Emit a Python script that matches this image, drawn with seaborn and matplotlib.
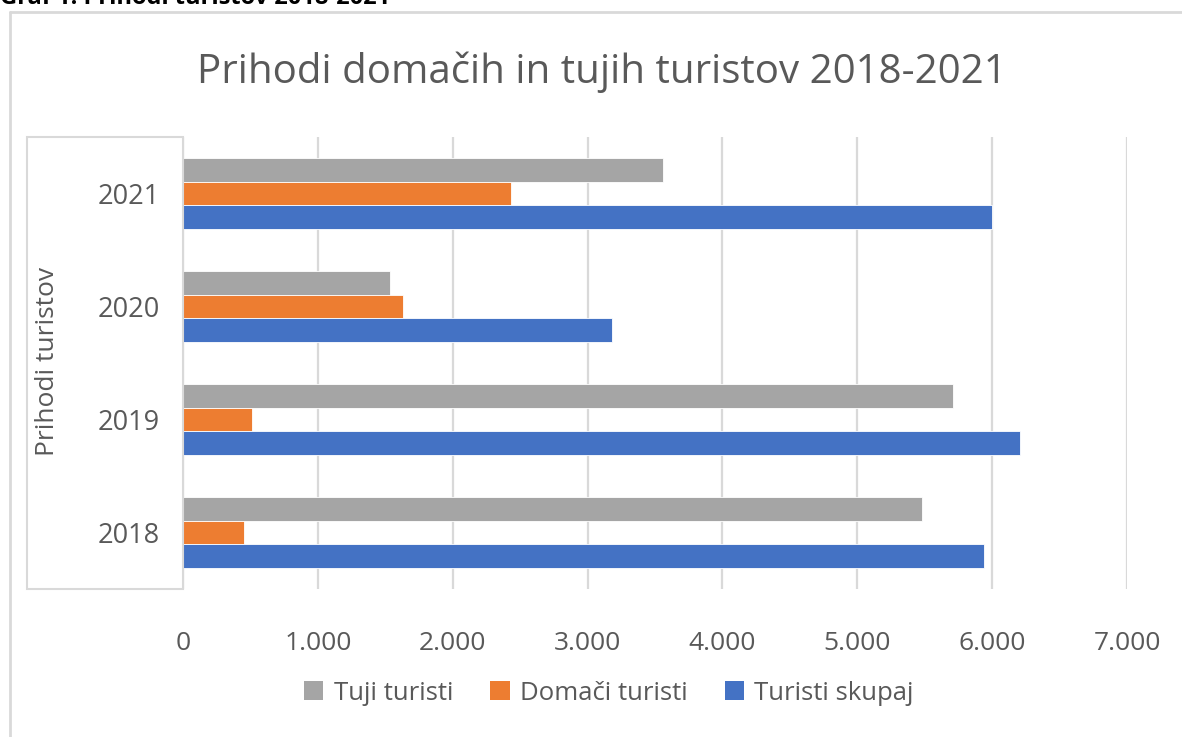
import pandas as pd
import seaborn as sns
import matplotlib.pyplot as plt
from matplotlib.lines import Line2D
from matplotlib.patches import Rectangle, Patch
from matplotlib.ticker import FuncFormatter

years = ["2021", "2020", "2019", "2018"]
series = ["Tuji turisti", "Domači turisti", "Turisti skupaj"]
tuji = [3556, 1537, 5707, 5482]
domaci = [2435, 1634, 510, 452]
skupaj = [6000, 3183, 6210, 5939]
colors = ["#A5A5A5", "#ED7D31", "#4472C4"]

rows = []
for name, vals in zip(series, [tuji, domaci, skupaj]):
    for y, v in zip(years, vals):
        rows.append({"leto": y, "serija": name, "prihodi": v})
df = pd.DataFrame(rows)

sns.set_theme(style="white")
plt.rcParams['font.family'] = ['Open Sans', 'DejaVu Sans']
text_col = "#595959"
grid_col = "#D9D9D9"

fig = plt.figure(figsize=(11.82, 7.37), dpi=100)
ax = fig.add_axes([183 / 1182, 1 - 589 / 737, (1127 - 183) / 1182, (589 - 137) / 737])

sns.barplot(data=df, x="prihodi", y="leto", hue="serija", order=years,
            hue_order=series, palette=colors, width=0.62, orient="h",
            edgecolor="white", linewidth=0.6, saturation=1, legend=False, ax=ax)

ax.set_xlim(0, 7000)
ax.set_ylim(3.5, -0.5)
ax.set_xticks(range(0, 7001, 1000))
ax.xaxis.set_major_formatter(FuncFormatter(lambda x, p: f"{int(x):,}".replace(",", ".")))
ax.xaxis.grid(True, color=grid_col, linewidth=1.6)
ax.set_axisbelow(True)
for s in ax.spines.values():
    s.set_visible(False)
ax.tick_params(axis="x", length=0, pad=30, labelsize=19, labelcolor=text_col)
ax.tick_params(axis="y", length=0, pad=17, labelsize=19.5, labelcolor=text_col)
ax.set(xlabel=None, ylabel=None)

fig.text(48 / 1182, 1 - 361 / 737, "Prihodi turistov", rotation=90, ha="center",
         va="center", fontsize=19, color=text_col)

fig.text(602 / 1182, 1 - 72 / 737, "Prihodi domačih in tujih turistov 2018-2021",
         ha="center", va="center", fontsize=29, color=text_col)

# cut-off caption above chart
fig.text(0, 1 - 4 / 737, "Graf 1: Prihodi turistov 2018-2021", ha="left",
         va="baseline", fontsize=17, fontweight="bold", color="black")

# chart frame and axis title box
fig.add_artist(Line2D([10 / 1182, 1.01], [1 - 12 / 737, 1 - 12 / 737],
                      transform=fig.transFigure, color=grid_col, lw=2))
fig.add_artist(Line2D([10 / 1182, 10 / 1182], [1 - 12 / 737, -0.01],
                      transform=fig.transFigure, color=grid_col, lw=2))
fig.add_artist(Rectangle((27 / 1182, 1 - 589 / 737), (183 - 27) / 1182, (589 - 137) / 737,
                         transform=fig.transFigure, fill=False, edgecolor=grid_col, lw=1.5))

handles = [Patch(facecolor=c, edgecolor="none") for c in colors]
leg = fig.legend(handles, series, loc="center", bbox_to_anchor=(609 / 1182, 1 - 693 / 737),
                 ncol=3, frameon=False, fontsize=18.5, handlelength=0.75, handleheight=0.75,
                 handletextpad=0.4, columnspacing=1.45)
for t in leg.get_texts():
    t.set_color(text_col)

fig.savefig("out.png", dpi=100)
